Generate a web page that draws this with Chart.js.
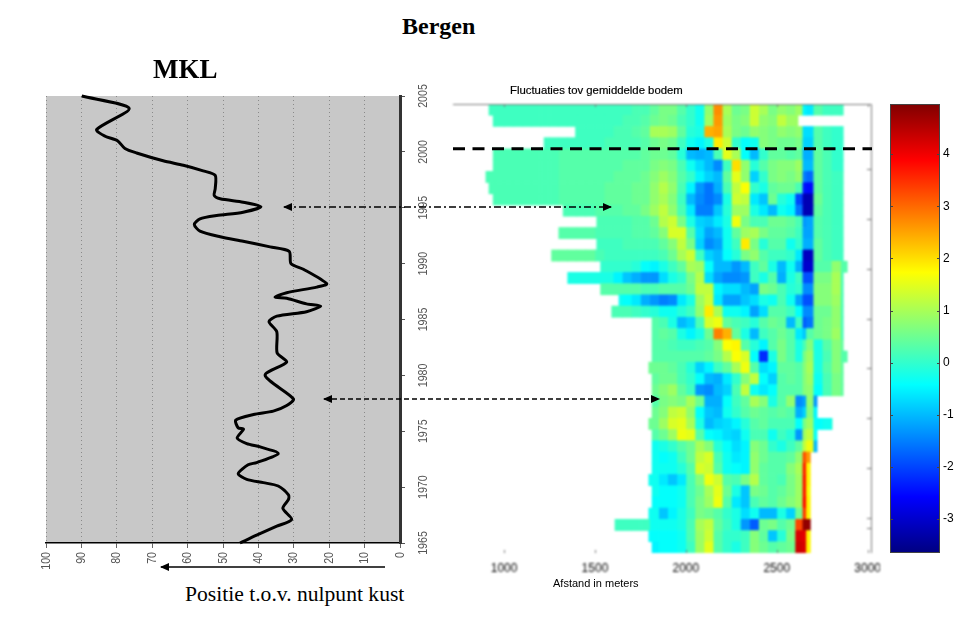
<!DOCTYPE html>
<html>
<head>
<meta charset="utf-8">
<title>Bergen</title>
<script src="https://cdn.jsdelivr.net/npm/chart.js@4/dist/chart.umd.min.js"></script>
<style>
  html, body { margin: 0; padding: 0; background: #fff; }
  #page { position: relative; width: 960px; height: 629px; overflow: hidden; }
  canvas { position: absolute; }
  #heatChart { filter: blur(0.8px); }
  .label { position: absolute; white-space: nowrap; color: #000; }
  .serif { font-family: "Liberation Serif", serif; }
  .sans { font-family: "Liberation Sans", sans-serif; }
  svg { position: absolute; left: 0; top: 0; }
</style>
</head>
<body>
<div id="page">
  <canvas id="mklChart" width="450" height="500" style="left:0;top:80px"></canvas>
  <canvas id="heatChart" width="440" height="510" style="left:440px;top:90px"></canvas>
  <canvas id="barChart" width="80" height="475" style="left:880px;top:90px"></canvas>

  <div class="label serif" style="left:402px;top:13px;font-size:24px;font-weight:bold">Bergen</div>
  <div class="label serif" style="left:153px;top:54px;font-size:27px;font-weight:bold">MKL</div>
  <div class="label serif" style="left:185px;top:582px;font-size:21.6px">Positie t.o.v. nulpunt kust</div>
  <div class="label sans" style="left:510px;top:84px;font-size:11.35px;-webkit-text-stroke:0.2px #000">Fluctuaties tov gemiddelde bodem</div>
  <div class="label sans" style="left:553px;top:577px;font-size:11px">Afstand in meters</div>

  <svg width="960" height="629">
    <defs>
      <marker id="head" markerWidth="9" markerHeight="8" refX="8" refY="4" orient="auto-start-reverse" markerUnits="userSpaceOnUse">
        <path d="M0,0 L9,4 L0,8 Z" fill="#000"></path>
      </marker>
    </defs>
    <line x1="453" y1="148.7" x2="872" y2="148.7" stroke="#000" stroke-width="3" stroke-dasharray="12 7.5"></line>
    <line x1="284" y1="207" x2="611" y2="207" stroke="#000" stroke-width="1.3" stroke-dasharray="7 3 2 3" marker-start="url(#head)" marker-end="url(#head)"></line>
    <line x1="324" y1="399" x2="659" y2="399" stroke="#000" stroke-width="1.3" stroke-dasharray="5 3" marker-start="url(#head)" marker-end="url(#head)"></line>
    <line x1="385" y1="567" x2="161" y2="567" stroke="#000" stroke-width="1.3" marker-end="url(#head)"></line>
  </svg>
</div>

<script>
// MKL curve
const curveYears = [2005, 2003.9, 2002, 2001.4, 2001, 2000.3, 1999.9, 1999.2, 1998.8, 1998.3, 1997.9, 1996.7, 1996.1, 1995.8, 1995.5, 1995.1, 1994.6, 1994.3, 1994, 1993.5, 1992.9, 1992.4, 1992, 1991.5, 1991.1, 1990, 1989.5, 1988.2, 1987.9, 1987.4, 1987, 1986.9, 1986.4, 1986.2, 1985.7, 1985.3, 1984.8, 1983.9, 1982, 1981.2, 1980, 1977.9, 1977.3, 1976.8, 1976.5, 1976, 1975.3, 1975.2, 1974.4, 1973.9, 1973.6, 1973, 1972.2, 1972, 1971.2, 1970.7, 1970.4, 1970.1, 1969.3, 1968.9, 1968.1, 1967.1, 1966.5, 1965.7, 1965];
const curvePositions = [89.9, 76.5, 85.7, 83.3, 79.8, 77.7, 74.4, 66.9, 61.2, 55.6, 52.2, 52.2, 52.5, 50.8, 44.3, 39.3, 44.3, 51.8, 56.5, 58.1, 56.5, 50.8, 44.3, 36.7, 31.3, 30.8, 27.3, 20.7, 23.5, 32, 35.3, 32, 26.4, 22.4, 26.4, 34.8, 37, 34.8, 34.7, 32, 38.1, 30.1, 32, 35.8, 41.4, 46.4, 45.7, 44.2, 46, 43.3, 39.5, 34.4, 40.5, 42.9, 45.7, 43.3, 38.6, 34.4, 31.5, 31.5, 33.1, 30.6, 34.8, 40.5, 45.2];

// tick labels
const positionTicks = [0, 10, 20, 30, 40, 50, 60, 70, 80, 90, 100];
const yearTicks = [1965, 1970, 1975, 1980, 1985, 1990, 1995, 2000, 2005];
const heatYearTicks = [1964, 1965, 1970, 1975, 1980, 1985, 1990, 1995, 2000];
const meterTicks = [1000, 1500, 2000, 2500, 3000];
const colorTicks = [-3, -2, -1, 0, 1, 2, 3, 4];

// Heatmap: one row per year (top to bottom), columns between these edges in meters
const rowYears = [2003, 2002, 2001, 2000, 1999, 1998, 1997, 1996, 1995, 1994, 1993, 1992, 1991, 1990, 1989, 1988, 1987, 1986, 1985, 1984, 1983, 1982, 1981, 1980, 1979, 1978, 1977, 1976, 1975, 1974, 1973, 1972, 1971, 1970, 1969, 1968, 1967, 1966, 1965, 1964];
const columnEdges = [900, 950, 1000, 1050, 1100, 1150, 1200, 1250, 1300, 1350, 1400, 1450, 1500, 1550, 1600, 1650, 1700, 1750, 1800, 1850, 1900, 1950, 2000, 2050, 2100, 2150, 2200, 2250, 2300, 2350, 2400, 2450, 2500, 2550, 2600, 2640, 2660, 2700, 2750, 2800, 2850, 2900];
const rowStart = [917, 940, 1393, 1220, 940, 940, 877, 917, 940, 1325, 1510, 1301, 1510, 1261, 1531, 1349, 1531, 1632, 1592, 1814, 1814, 1814, 1814, 1796, 1814, 1814, 1814, 1814, 1796, 1814, 1814, 1814, 1814, 1796, 1814, 1814, 1796, 1610, 1796, 1814];
const rowEnd = [2866, 2617, 2866, 2866, 2866, 2866, 2866, 2866, 2866, 2866, 2866, 2866, 2866, 2866, 2888, 2866, 2866, 2866, 2866, 2866, 2866, 2866, 2888, 2866, 2866, 2866, 2722, 2722, 2805, 2722, 2722, 2685, 2685, 2685, 2685, 2685, 2685, 2685, 2685, 2685];

const _ = null;
const cellValues = [
  [.1,.1,.1,.1,.1,.1,.1,.1,.1,.1,.1,.1,.1,.1,.1,.1,.2,.2, .4,.6,.6,.3,0,-.3,.8,2.7,1,.5,.6,1.3,1,.6,.8,.7, .9,-.5,-.6,.3,.1,.1,.1],
  [.1,.1,.1,.1,.1,.1,.1,.1,.1,.1,.1,.1,.1,.1,.1,.2,.2,.3, .5,.6,.5,.2,0,-.3,.9,2.6,.9,.6,.7,1.3,.8,.7,1.2,.9, .9,_,_,_,_,_,_],
  [_,_,_,_,_,_,_,_,_,.1,.1,.1,.1,.1,.2,.2,.3,.4, 1,1,.9,.4,-.1,-.2,2.4,2.5,1,.6,.5,.8,.7,.6,.8,.7, .8,-.7,-.7,.3,.1,0,0],
  [_,_,_,_,_,_,.1,.1,.1,.1,.1,.1,.1,.2,.2,.2,.2,.3, .5,.6,.5,.1,-.3,-.5,-.2,1.9,1.3,0,-.4,-.3,.7,.6,.5,.5, .6,-.8,-.8,.3,.1,0,0],
  [.2,.2,.2,.2,.2,.2,.2,.2,.3,.3,.3,.3,.3,.3,.3,.3,.3,.4, .5,.5,.4,-.1,-1,-1.1,-1,.2,1.5,1,-.4,-1,0,.4,.4,.3, .4,-1.1,-1.1,.4,.2,0,0],
  [.2,.2,.2,.2,.2,.2,.2,.2,.3,.3,.3,.3,.3,.3,.3,.4,.4,.4, .6,.7,.6,.2,-.3,-.7,-1,-1.4,.1,2,.8,-.1,.3,.6,.7,.7, .9,-1,-1,.4,.2,0,0],
  [.2,.2,.2,.2,.2,.2,.2,.2,.3,.3,.3,.3,.3,.3,.4,.4,.4,.5, .7,.9,.7,.3,0,-.5,-.8,-1,.4,1.5,.8,-.8,0,.6,.7,.6, .8,-1.5,-1.7,.4,.2,.1,.1],
  [.2,.2,.2,.2,.2,.2,.2,.2,.3,.3,.3,.3,.3,.4,.4,.4,.5,.5, .8,1.1,.8,.2,-.5,-1.3,-1.6,-1.1,.2,1.2,1.7,0,-.2,.4,.5,.5, .2,-2.4,-2.5,.4,.2,.1,.1],
  [.2,.2,.2,.2,.2,.2,.2,.2,.3,.3,.3,.3,.3,.4,.4,.4,.5,.5, .8,1,.7,.1,-1,-1.4,-1.6,-1.4,-.2,1.3,1.2,-.6,-.9,.5,-.1,-.3, -2,-3.2,-3.2,.5,.2,.1,.1],
  [_,_,_,_,_,_,_,_,.2,.2,.2,.2,.3,.3,.3,.4,.4,.6, .9,1.2,.8,.2,-.6,-1.5,-1.5,-.9,-.1,.9,.9,-.2,-.6,-1,-.3,-.5, -1.6,-3.2,-3.2,.4,.2,.1,.1],
  [_,_,_,_,_,_,_,_,_,_,_,_,.2,.2,.2,.2,.3,.3, .5,1.1,1.3,.6,-.2,-.8,-.9,-.6,-.2,1.6,.6,.2,.2,.5,.5,.4, .2,-1.3,-1.2,.3,.2,.1,.1],
  [_,_,_,_,_,_,_,_,.3,.3,.3,.3,.2,.2,.2,.2,.3,.3, .4,.7,1.4,1.4,.3,-.7,-1.2,-1,-.3,.4,.9,1,.6,.4,.4,.3, .1,-1.2,-1.2,.3,.2,.1,.1],
  [_,_,_,_,_,_,_,_,_,_,_,_,.1,.1,.1,.2,.2,.2, .2,.4,.7,1.2,.6,-.8,-1.4,-1.2,-.3,.1,1.9,.6,-.1,.3,.3,-.3, 0,-1.1,-1.1,.4,.2,.1,.1],
  [_,_,_,_,_,_,_,.4,.4,.4,.4,.4,.2,.1,.1,.1,.1,.1, .1,.2,.5,1,1.3,.1,-.8,-1,-.4,-.1,.6,.8,.3,.1,.1,0, -.6,-3.1,-3.1,.4,.2,.1,.1],
  [_,_,_,_,_,_,_,_,_,_,_,_,0,0,0,0,-.1,-.4, -.5,-.2,.1,.4,1,.9,-.4,-1,-1,-1.3,-1,.1,.4,-.2,-1,-.3, -1.1,-3,-3,.3,.3,.8,.3],
  [_,_,_,_,_,_,_,_,_,-.2,-.2,-.2,-.2,-.2,-.5,-.9,-1.1,-1.3, -1.3,-.7,-.2,0,.6,1.1,-.7,-1.2,-1.4,-1.4,-1.3,.1,-.2,.3,-1.1,-.2, .1,-1.9,-1.9,.6,.6,1,.2],
  [_,_,_,_,_,_,_,_,_,_,_,_,.3,.3,.3,.3,.3,.2, .2,.3,.3,.3,.5,1.2,1.2,-.5,-.7,-.7,-1,-1.2,.6,.5,.2,-.1, 0,-1.4,-1.4,.7,.7,1,.2],
  [_,_,_,_,_,_,_,_,_,_,_,_,_,_,-.3,-.4,-.6,-1.1, -1.3,-1.5,-1.4,-.6,-.2,.9,1.3,-.6,-1.2,-1.2,-.9,-.7,-.2,-.3,.2,-.3, -1.2,-1.9,-1.9,.7,.7,.9,.2],
  [_,_,_,_,_,_,_,_,_,_,_,_,_,.2,.2,.2,.1,0, -.1,-.3,-.3,-.1,.1,.8,1.9,1,-.3,-.3,-.5,-1.2,-.7,.3,.3,.1, -.4,-1.4,-1.4,.5,.5,.8,.2],
  [_,_,_,_,_,_,_,_,_,_,_,_,_,_,_,_,_,_, .3,.2,-.2,-1,-.8,.2,1.4,1.6,.4,.2,.1,-.1,.3,.5,.4,-1, .1,-1.8,-1.6,.5,.6,.8,.2],
  [_,_,_,_,_,_,_,_,_,_,_,_,_,_,_,_,_,_, .3,.4,.3,-.2,-.5,-.2,.5,2.8,2.4,.4,-.2,-1,.1,.3,.5,.3, -.6,-.9,.3,.5,.6,.9,.2],
  [_,_,_,_,_,_,_,_,_,_,_,_,_,_,_,_,_,_, .3,.3,.2,.1,.1,.2,.3,.7,1.7,1.8,.3,-.1,-.5,.3,.6,.3, -.2,.2,.7,-.2,.3,.7,.4],
  [_,_,_,_,_,_,_,_,_,_,_,_,_,_,_,_,_,_, .3,.3,.3,.3,.3,.3,.4,.6,1.1,1.7,1.4,-.4,-2.2,-.2,.6,.3, -.2,.6,.9,-.2,.2,.7,.3],
  [_,_,_,_,_,_,_,_,_,_,_,_,_,_,_,_,_,.5, .5,.5,.4,.2,-.1,-.8,-.5,.1,.4,1,1.6,.3,-.7,-.5,.4,.4, .3,.7,1,-.2,.3,.7,.4],
  [_,_,_,_,_,_,_,_,_,_,_,_,_,_,_,_,_,_, .4,.5,.5,.2,0,-.4,-1,-1.1,-.6,0,.7,1.2,-.4,-.8,.3,.4, .3,.7,.9,-.3,.2,.6,.4],
  [_,_,_,_,_,_,_,_,_,_,_,_,_,_,_,_,_,_, .5,.7,.9,.4,.1,-1.3,-1.4,-1,-.8,.2,1.2,-.3,-.6,-.4,.3,.3, .3,.7,.8,-.4,.2,.6,.4],
  [_,_,_,_,_,_,_,_,_,_,_,_,_,_,_,_,_,_, .3,.6,.7,.6,1,.5,-1.1,-1.1,-.4,.1,.4,1,.7,-.2,.3,.8, -1.4,-1.2,.8,-1.3,_,_,_],
  [_,_,_,_,_,_,_,_,_,_,_,_,_,_,_,_,_,_, .5,.7,1.2,1.3,.8,-.4,-.9,-1,-.3,0,.3,.5,.4,.3,.4,.3, -1.1,-.8,.7,-.5,_,_,_],
  [_,_,_,_,_,_,_,_,_,_,_,_,_,_,_,_,_,.5, .5,.9,1.4,1.5,1,-.2,-1,-.8,-.7,-.5,-.1,.3,.4,.2,.2,.2, -.4,.6,.9,-.4,-.3,0,_],
  [_,_,_,_,_,_,_,_,_,_,_,_,_,_,_,_,_,_, .3,.5,.9,1.6,1.5,.3,-.4,-.5,-.7,-.8,-.3,.2,.2,-.3,.1,-.1, -1.3,.9,1.2,-.4,_,_,_],
  [_,_,_,_,_,_,_,_,_,_,_,_,_,_,_,_,_,_, -.3,-.2,0,.3,.5,1,.7,-.1,-.4,-.7,-.5,.7,.5,0,-.2,.1, .4,1.2,1.6,-1,_,_,_],
  [_,_,_,_,_,_,_,_,_,_,_,_,_,_,_,_,_,_, -.3,-.4,-.3,.1,.5,1.2,1.4,.2,-.3,-.6,-.5,.8,.5,.3,.3,.4, .8,3.2,2.6,_,_,_,_],
  [_,_,_,_,_,_,_,_,_,_,_,_,_,_,_,_,_,_, -.3,-.3,-.3,-.1,.3,1.4,1.3,.3,-.3,-.4,-.5,.8,.4,.3,.3,.7, 1,3.6,1.8,_,_,_,_],
  [_,_,_,_,_,_,_,_,_,_,_,_,_,_,_,_,_,-.3, -.3,-.6,-.9,-.6,.2,.7,1.6,1.3,.3,.2,.6,1.1,.4,.3,.2,.6, .9,3.7,1.8,_,_,_,_],
  [_,_,_,_,_,_,_,_,_,_,_,_,_,_,_,_,_,_, -.3,-.4,-.4,-.3,.2,.5,1,1.5,.5,-.2,-.9,.6,.5,.3,.4,.6, .9,3.7,1.7,_,_,_,_],
  [_,_,_,_,_,_,_,_,_,_,_,_,_,_,_,_,_,_, -.4,-.4,-.4,-.3,.2,.6,.9,1.6,.3,-.6,-.9,.2,.4,.3,.5,.7, .9,3.8,1.8,_,_,_,_],
  [_,_,_,_,_,_,_,_,_,_,_,_,_,_,_,_,_,-.3, -.3,-.9,-.5,-.2,.1,.6,.5,.3,0,-.2,-.7,-.3,-1,-1,-.2,-.8, .5,3.4,1.8,_,_,_,_],
  [_,_,_,_,_,_,_,_,_,_,_,_,_,_,.1,.1,.1,.1, -.3,-.3,-.3,-.2,.2,1,1.2,.4,.1,-.2,-1.3,-1.8,.5,.6,.3,.5, 3.3,4.8,4.8,_,_,_,_],
  [_,_,_,_,_,_,_,_,_,_,_,_,_,_,_,_,_,-.4, -.4,-.4,-.4,-.3,.2,.9,1.3,.3,0,0,.1,.7,.4,-.9,-.1,.6, 4.2,4.1,1.8,_,_,_,_],
  [_,_,_,_,_,_,_,_,_,_,_,_,_,_,_,_,_,_, -.5,-.4,-.4,-.3,.1,.9,1.5,.3,0,-.2,.1,.7,.5,.3,.4,.5, 4.3,4.2,1.8,_,_,_,_],
];

const colorRange = [-3.65, 4.96];

// jet colours
function jet(t) {
  const c = x => Math.round(255 * Math.max(0, Math.min(1, 1.5 - Math.abs(4 * t - x))));
  return `rgb(${c(3)},${c(2)},${c(1)})`;
}
function valueColor(v) {
  return jet((v - colorRange[0]) / (colorRange[1] - colorRange[0]));
}

// fixed tick list for a scale, so the ticks do not snap to min and max
function fixedTicks(values) {
  return scale => { scale.ticks = values.map(v => ({ value: v })); };
}

// squeezed, rotated tick label (the font in the picture is narrower than any installed one)
function drawRotatedLabel(ctx, text, x, y, align) {
  ctx.save();
  ctx.translate(x, y);
  ctx.rotate(-Math.PI / 2);
  ctx.scale(0.82, 1);
  ctx.textAlign = align;
  ctx.textBaseline = 'middle';
  ctx.fillText(text, 0, 0);
  ctx.restore();
}

// grey plot background and the rotated labels of the left panel
const mklPanel = {
  id: 'mklPanel',
  beforeDraw(chart) {
    const a = chart.chartArea;
    chart.ctx.fillStyle = '#c8c8c8';
    chart.ctx.fillRect(a.left, a.top, a.width, a.height);
  },
  afterDraw(chart) {
    const ctx = chart.ctx;
    ctx.save();
    ctx.fillStyle = '#555';
    ctx.font = '13px "Liberation Sans", sans-serif';
    chart.scales.y.ticks.forEach(t => {
      drawRotatedLabel(ctx, String(t.value), 423, chart.scales.y.getPixelForValue(t.value), 'center');
    });
    chart.scales.x.ticks.forEach(t => {
      drawRotatedLabel(ctx, String(t.value), chart.scales.x.getPixelForValue(t.value), 472, 'right');
    });
    ctx.restore();
  },
};

new Chart(document.getElementById('mklChart'), {
  type: 'scatter',
  data: {
    datasets: [{
      data: curveYears.map((yr, i) => ({ x: curvePositions[i], y: yr })),
      showLine: true,
      borderColor: '#000',
      borderWidth: 3,
      tension: 0.25,
      pointRadius: 0,
      clip: false,
    }],
  },
  options: {
    responsive: false,
    animation: false,
    layout: { padding: { left: 46, top: 16 } },
    plugins: { legend: { display: false }, tooltip: { enabled: false } },
    scales: {
      x: {
        type: 'linear',
        reverse: true,
        min: 0,
        max: 100,
        afterBuildTicks: fixedTicks(positionTicks),
        afterFit(s) { s.height = 37; s.paddingLeft = 0; s.paddingRight = 0; },
        border: { color: '#000', width: 1.5, dash: [1, 3] },
        grid: { color: '#8a8a8a', lineWidth: 1, tickLength: 5, tickColor: '#666', tickBorderDash: [] },
        ticks: { display: false },
      },
      y: {
        type: 'linear',
        position: 'right',
        min: 1965,
        max: 2005,
        afterBuildTicks: fixedTicks(yearTicks),
        afterFit(s) { s.width = 50; s.paddingTop = 0; s.paddingBottom = 0; },
        border: { color: '#333', width: 3 },
        grid: { drawOnChartArea: false, tickLength: 5, tickColor: '#555' },
        ticks: { display: false },
      },
    },
  },
  plugins: [mklPanel],
});

// frame and inner ticks of the heatmap
const heatFrame = {
  id: 'heatFrame',
  afterDatasetsDraw(chart) {
    const ctx = chart.ctx;
    const a = chart.chartArea;
    ctx.save();
    ctx.strokeStyle = '#777';
    ctx.lineWidth = 1;
    ctx.beginPath();
    ctx.moveTo(a.left, a.top + 0.5);
    ctx.lineTo(a.right - 0.5, a.top + 0.5);
    ctx.lineTo(a.right - 0.5, a.bottom);
    chart.scales.yearAxis.ticks.forEach(t => {
      const py = Math.round(chart.scales.yearAxis.getPixelForValue(t.value)) + 0.5;
      ctx.moveTo(a.right - 5, py);
      ctx.lineTo(a.right, py);
    });
    chart.scales.x.ticks.forEach(t => {
      const px = Math.round(chart.scales.x.getPixelForValue(t.value)) + 0.5;
      ctx.moveTo(px, a.bottom - 3);
      ctx.lineTo(px, a.bottom);
      ctx.moveTo(px, a.top);
      ctx.lineTo(px, a.top + 3);
    });
    ctx.stroke();
    ctx.restore();
  },
};

const heatDatasets = columnEdges.slice(0, -1).map((edge, c) => ({
  data: rowYears.map((yr, r) => {
    if (cellValues[r][c] === null) return null;
    const from = Math.max(edge, rowStart[r]);
    const to = Math.min(columnEdges[c + 1], rowEnd[r]);
    return to > from ? [from, to] : null;
  }),
  backgroundColor: rowYears.map((yr, r) => (cellValues[r][c] === null ? 'transparent' : valueColor(cellValues[r][c]))),
  borderWidth: 0,
  grouped: false,
  barPercentage: 1,
  categoryPercentage: 1,
}));

new Chart(document.getElementById('heatChart'), {
  type: 'bar',
  data: { labels: rowYears, datasets: heatDatasets },
  options: {
    indexAxis: 'y',
    responsive: false,
    animation: false,
    layout: { padding: { left: 13, top: 14, right: 8 } },
    plugins: { legend: { display: false }, tooltip: { enabled: false } },
    scales: {
      x: {
        type: 'linear',
        min: 719,
        max: 3024,
        afterBuildTicks: fixedTicks(meterTicks),
        afterFit(s) { s.height = 47; s.paddingLeft = 0; s.paddingRight = 0; },
        border: { display: false },
        grid: { display: false, drawTicks: false },
        ticks: {
          padding: 8,
          maxRotation: 0,
          color: '#000',
          font: { family: '"Liberation Sans", sans-serif', size: 12 },
          callback: v => String(v),
        },
      },
      y: { type: 'category', display: false },
      yearAxis: {
        axis: 'y',
        type: 'linear',
        position: 'right',
        min: 1964,
        max: 2004,
        afterBuildTicks: fixedTicks(heatYearTicks),
        afterFit(s) { s.width = 0; s.paddingTop = 0; s.paddingBottom = 0; },
        border: { display: false },
        grid: { display: false, drawTicks: false },
        ticks: { display: false },
      },
    },
  },
  plugins: [heatFrame],
});

// colour bar: a single floating bar over the full value range
const barFrame = {
  id: 'barFrame',
  afterDatasetsDraw(chart) {
    const ctx = chart.ctx;
    const a = chart.chartArea;
    ctx.save();
    ctx.strokeStyle = '#444';
    ctx.lineWidth = 1;
    ctx.strokeRect(a.left + 0.5, a.top + 0.5, a.width - 1, a.height - 1);
    ctx.beginPath();
    chart.scales.y.ticks.forEach(t => {
      const py = Math.round(chart.scales.y.getPixelForValue(t.value)) + 0.5;
      ctx.moveTo(a.left, py);
      ctx.lineTo(a.left + 3, py);
      ctx.moveTo(a.right - 3, py);
      ctx.lineTo(a.right, py);
    });
    ctx.stroke();
    ctx.restore();
  },
};

new Chart(document.getElementById('barChart'), {
  type: 'bar',
  data: {
    labels: [''],
    datasets: [{
      data: [colorRange],
      barPercentage: 1,
      categoryPercentage: 1,
      borderWidth: 0,
      backgroundColor(ctx) {
        const a = ctx.chart.chartArea;
        if (!a) return '#888';
        const g = ctx.chart.ctx.createLinearGradient(0, a.bottom, 0, a.top);
        [0, 0.125, 0.375, 0.625, 0.875, 1].forEach(t => g.addColorStop(t, jet(t)));
        return g;
      },
    }],
  },
  options: {
    responsive: false,
    animation: false,
    layout: { padding: { left: 10, top: 14, bottom: 12 } },
    plugins: { legend: { display: false }, tooltip: { enabled: false } },
    scales: {
      x: { display: false },
      y: {
        type: 'linear',
        position: 'right',
        min: colorRange[0],
        max: colorRange[1],
        afterBuildTicks: fixedTicks(colorTicks),
        afterFit(s) { s.width = 20; s.paddingTop = 0; s.paddingBottom = 0; },
        border: { display: false },
        grid: { display: false, drawTicks: false },
        ticks: {
          padding: 3,
          color: '#000',
          font: { family: '"Liberation Sans", sans-serif', size: 12 },
          callback: v => String(v),
        },
      },
    },
  },
  plugins: [barFrame],
});
</script>
</body>
</html>
